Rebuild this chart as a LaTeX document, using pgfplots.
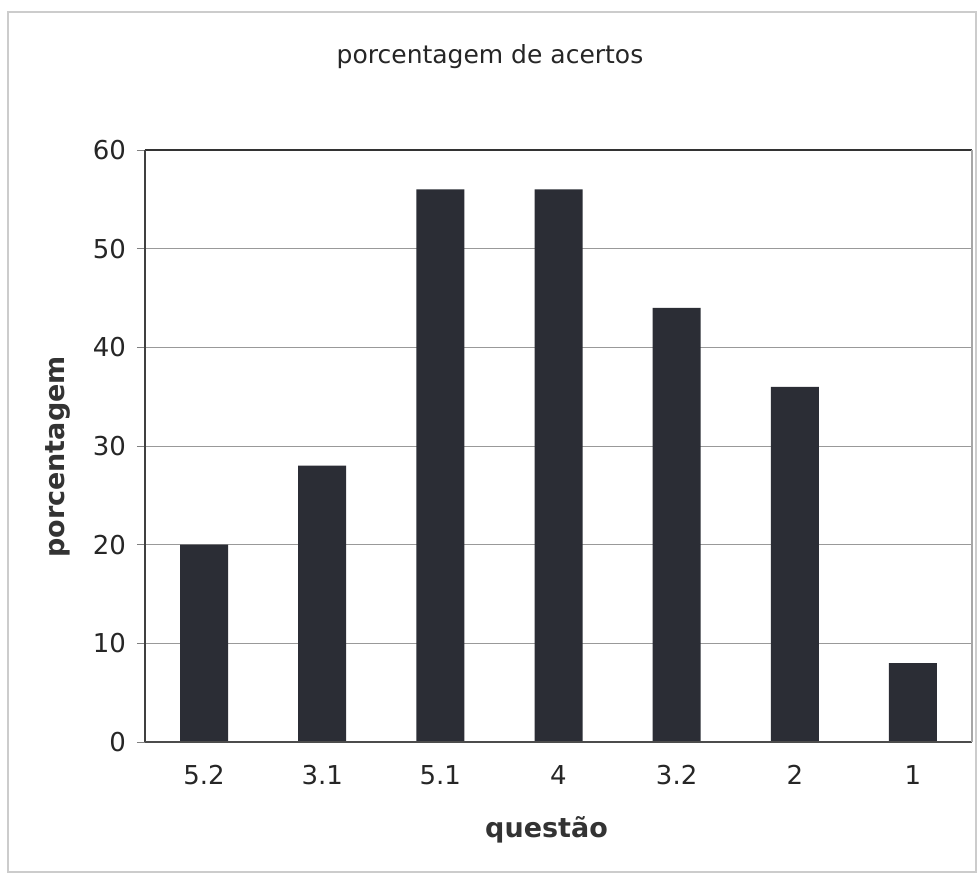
\documentclass[border=0pt]{standalone}
\usepackage{pgfplots}
\pgfplotsset{compat=1.18}
\usepackage{fontspec}
\setmainfont{DejaVu Sans}
\definecolor{barfill}{RGB}{43,45,53}
\begin{document}
\begin{tikzpicture}[x=1pt,y=1pt]
% whole canvas, in pt (origin at lower-left corner of the plot area)
\useasboundingbox (-72.5,-68.5) rectangle (416.5,371);
\fill[white] (-72.5,-68.5) rectangle (416.5,371);
\draw[gray!40,line width=0.6pt] (-68.5,-65) rectangle (415.5,365);
\begin{axis}[
  at={(0,0)}, anchor=south west,
  scale only axis,
  width=413.5pt, height=296pt,
  xmin=-0.5, xmax=6.5,
  ymin=0, ymax=60,
  ytick={0,10,...,60},
  xtick={0,...,6},
  xticklabels={5.2,3.1,5.1,4,3.2,2,1},
  major x tick style={draw=none},
  extra x ticks={0.5,1.5,...,5.5},
  extra x tick labels={},
  extra x tick style={tick style={draw=gray,line width=0.5pt}, major tick length=5pt, tick pos=bottom, grid=none},
  tick align=outside,
  tick pos=left,
  major tick length=4pt,
  ymajorgrids,
  grid style={gray!80,line width=0.5pt},
  axis line style={draw=none},
  /pgf/number format/assume math mode=true,
  ticklabel style={font=\fontsize{13}{15}\selectfont, text=black!85},
  yticklabel style={xshift=-2pt},
  xticklabel style={yshift=-4pt},
  ylabel={\textbf{porcentagem}},
  xlabel={\textbf{questão}},
  label style={font=\fontsize{13.5}{16}\selectfont, text=black!80},
  % the y label is rotated, so its shifts act in the turned frame
  ylabel style={at={(axis description cs:0,0.5)}, anchor=center, yshift=43.5pt, xshift=-5.5pt},
  xlabel style={at={(axis description cs:0.5,0)}, anchor=center, yshift=-44pt, xshift=-6pt},
  ybar, bar width=24pt,
  clip=false,
]
\addplot[fill=barfill, draw=none] coordinates {
  (0,20) (1,28) (2,56) (3,56) (4,44) (5,36) (6,8)
};
% plot frame: dark left/top/bottom, lighter right
\draw[black!80,line width=0.7pt] (axis cs:-0.5,60) -- (axis cs:6.5,60);
\draw[black!75,line width=0.6pt] (axis cs:-0.5,0) -- (axis cs:-0.5,60);
\draw[black!70,line width=0.6pt] (axis cs:-0.5,0) -- (axis cs:6.5,0);
\draw[gray!70,line width=0.6pt] (axis cs:6.5,0) -- (axis cs:6.5,60);
\end{axis}
\node[font=\fontsize{12.5}{15}\selectfont, text=black!85] at (172.5,342.5) {porcentagem de acertos};
\end{tikzpicture}
\end{document}
